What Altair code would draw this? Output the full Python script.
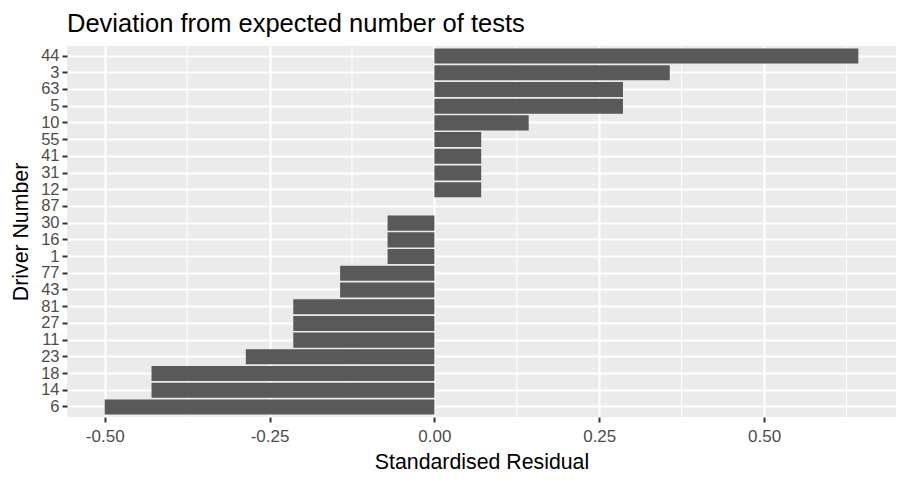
import altair as alt
import pandas as pd

drivers = ["44", "3", "63", "5", "10", "55", "41", "31", "12", "87", "30",
           "16", "1", "77", "43", "81", "27", "11", "23", "18", "14", "6"]
residuals = [0.643, 0.357, 0.286, 0.286, 0.143, 0.071, 0.071, 0.071, 0.071, 0.0,
             -0.071, -0.071, -0.071, -0.143, -0.143, -0.214, -0.214, -0.214,
             -0.286, -0.429, -0.429, -0.5]
major_breaks = [-0.5, -0.25, 0.0, 0.25, 0.5]
minor_breaks = [-0.375, -0.125, 0.125, 0.375, 0.625]
x_domain = [-0.5572, 0.7001]

df = pd.DataFrame({"driver": drivers, "residual": residuals})
minor_df = pd.DataFrame({"residual": minor_breaks})

FONT = "Liberation Sans"

xscale = alt.Scale(domain=x_domain, nice=False, zero=False)
yscale = alt.Scale(domain=drivers, paddingInner=0.1, paddingOuter=0.15)

xaxis = alt.Axis(values=major_breaks, title="Standardised Residual",
                 labelExpr="replace(format(datum.value, '.2f'), '\u2212', '-')",
                 grid=True, gridColor="white", gridWidth=2,
                 tickColor="#333333", tickSize=5, tickWidth=2,
                 labelColor="#4D4D4D", labelFontSize=17, labelFont=FONT,
                 labelPadding=6, domain=False,
                 titleFont=FONT, titleFontSize=21.3, titleFontWeight="normal",
                 titleColor="black", titlePadding=7)

minor = alt.Chart(minor_df).mark_rule(color="white", strokeWidth=1).encode(
    x=alt.X("residual:Q", scale=xscale, axis=xaxis)
)

bars = alt.Chart(df).mark_bar(color="#595959").encode(
    x=alt.X("residual:Q", scale=xscale, axis=xaxis),
    y=alt.Y("driver:N", scale=yscale, sort=drivers,
            axis=alt.Axis(title="Driver Number", bandPosition=0.5,
                          grid=True, gridColor="white", gridWidth=2,
                          tickColor="#333333", tickSize=5, tickWidth=2,
                          labelColor="#4D4D4D", labelFontSize=16.5, labelFont=FONT,
                          labelPadding=3, domain=False, labelOverlap=False,
                          titleFont=FONT, titleFontSize=21.3, titleFontWeight="normal",
                          titleColor="black", titlePadding=9)),
)

chart = (minor + bars).properties(
    width=829, height=371,
    title=alt.TitleParams("Deviation from expected number of tests", anchor="start",
                          font=FONT, fontSize=25.5, fontWeight="normal", color="black",
                          offset=8, frame="group"),
    autosize=alt.AutoSizeParams(type="none"),
    padding={"left": 67, "top": 46, "right": 11, "bottom": 66},
    background="white",
).configure_view(fill="#EBEBEB", stroke=None)

chart.save("out.html", embed_options={"renderer": "svg", "actions": False})
